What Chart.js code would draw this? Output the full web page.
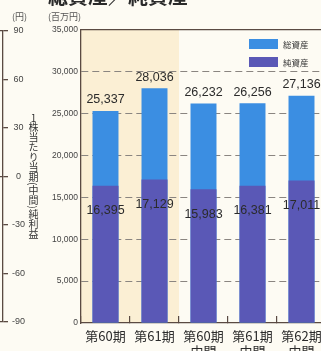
<!DOCTYPE html>
<html lang="ja">
<head>
<meta charset="utf-8">
<script src="https://cdn.jsdelivr.net/npm/chart.js@4/dist/chart.umd.min.js"></script>
<style>
  html, body { margin: 0; padding: 0; }
  body {
    width: 321px; height: 351px; overflow: hidden; position: relative;
    background: #fdfbf3; font-family: "Noto Sans CJK JP", "Noto Sans", sans-serif; color: #333;
  }
  canvas { position: absolute; top: 0; }
  #eps { left: -200px; }
  #main { left: 0; }
  .title { position: absolute; left: 48px; top: -18px; font-size: 20px; line-height: 28px; font-weight: bold; color: #2a2a2a; white-space: nowrap; }
  .unit { position: absolute; top: 10px; font-size: 9px; line-height: 14px; color: #555; white-space: nowrap; }
  .vlabel { position: absolute; left: 27px; top: 112px; font-size: 10px; line-height: 12px; writing-mode: vertical-rl; color: #333; white-space: nowrap; }
  .vlabel .up { text-combine-upright: all; }
  .legend { position: absolute; left: 249px; top: 35px; font-size: 8.5px; line-height: 10px; color: #333; }
  .legend div { display: flex; align-items: center; height: 18px; }
  .legend span.box { display: inline-block; width: 29px; height: 10px; margin-right: 5px; }
</style>
</head>
<body>
<canvas id="eps" width="250" height="351"></canvas>
<canvas id="main" width="350" height="351"></canvas>
<div class="title">総資産／純資産</div>
<div class="unit" style="left:12px">(円)</div>
<div class="unit" style="left:48px">(百万円)</div>
<div class="vlabel"><span class="up">1</span>株当たり当期(中間)純利益</div>
<div class="legend" id="legend"></div>
<script>
// data
const periods = [["第60期"], ["第61期"], ["第60期", "中間"], ["第61期", "中間"], ["第62期", "中間"]];
const totalAssets = [25337, 28036, 26232, 26256, 27136];
const netAssets = [16395, 17129, 15983, 16381, 17011];
const assetAxis = [0, 35000, 5000];   // min, max, step (百万円)
const epsAxis = [-90, 90, 30];        // min, max, step (円)
const annualCount = 2;                // shaded full-year periods

const colors = {
  total: "#3b8ee2",
  net: "#5a58b6",
  shade: "#fbefd4",
  axis: "#5a4a42",
  grid: "#8a8580",
  text: "#2b2b2b",
  tick: "#444"
};

// legend (総資産 on top)
const legendEl = document.getElementById("legend");
[["総資産", colors.total], ["純資産", colors.net]].forEach(([label, color]) => {
  const row = document.createElement("div");
  row.innerHTML = `<span class="box" style="background:${color}"></span>${label}`;
  legendEl.appendChild(row);
});

// left sliver: right-hand axis of the neighbouring per-share chart
new Chart(document.getElementById("eps"), {
  type: "line",
  data: { labels: [""], datasets: [] },
  options: {
    responsive: false,
    animation: false,
    layout: { padding: { top: 31, bottom: 29, left: 0, right: 0 } },
    plugins: { legend: { display: false }, tooltip: { enabled: false } },
    scales: {
      x: { display: false },
      y: {
        position: "right",
        min: epsAxis[0],
        max: epsAxis[1],
        afterFit: (s) => { s.width = 47; },
        ticks: { stepSize: epsAxis[2], color: colors.tick, font: { size: 9, family: "Liberation Sans, Arial" }, padding: 4, crossAlign: "center" },
        grid: {
          color: (ctx) => (ctx.tick && [epsAxis[0], 0, epsAxis[1]].includes(ctx.tick.value) ? colors.axis : "transparent"),
          tickColor: colors.axis,
          tickLength: 5,
          lineWidth: 1.3
        },
        border: { color: colors.axis, width: 1.3 }
      }
    }
  }
});

const shadePlugin = {
  id: "shade",
  beforeDraw(chart) {
    const { ctx, chartArea, scales } = chart;
    const x = scales.x;
    const edge = (x.getPixelForValue(annualCount - 1) + x.getPixelForValue(annualCount)) / 2;
    ctx.save();
    ctx.fillStyle = colors.shade;
    ctx.fillRect(chartArea.left, chartArea.top, edge - chartArea.left, chartArea.bottom - chartArea.top);
    ctx.restore();
  }
};

const valueLabels = {
  id: "valueLabels",
  afterDatasetsDraw(chart) {
    const { ctx } = chart;
    ctx.save();
    ctx.font = "12.5px 'Liberation Sans', Arial, sans-serif";
    ctx.fillStyle = colors.text;
    ctx.textAlign = "center";
    ctx.textBaseline = "middle";
    chart.data.datasets.forEach((ds, i) => {
      chart.getDatasetMeta(i).data.forEach((bar, j) => {
        const text = ds.data[j].toLocaleString("en-US");
        const y = ds.key === "total" ? bar.y - 11 : bar.y + 25;
        ctx.fillText(text, bar.x, y);
      });
    });
    ctx.restore();
  }
};

new Chart(document.getElementById("main"), {
  type: "bar",
  data: {
    labels: periods,
    datasets: [
      { key: "net", label: "純資産", data: netAssets, backgroundColor: colors.net, grouped: false, categoryPercentage: 1, barPercentage: 0.53 },
      { key: "total", label: "総資産", data: totalAssets, backgroundColor: colors.total, grouped: false, categoryPercentage: 1, barPercentage: 0.53 }
    ]
  },
  options: {
    responsive: false,
    animation: false,
    layout: { padding: { top: 30, right: 24, left: 0, bottom: 0 } },
    plugins: { legend: { display: false }, tooltip: { enabled: false } },
    scales: {
      x: {
        afterFit: (s) => { s.height = 28; },
        ticks: { color: colors.text, font: { size: 13, family: "Noto Sans CJK JP" }, padding: 12, maxRotation: 0, autoSkip: false },
        grid: { drawOnChartArea: false, tickLength: -7, tickColor: colors.axis, lineWidth: 1.2 },
        border: { color: colors.axis, width: 1.3 }
      },
      x2: {
        position: "top",
        afterFit: (s) => { s.height = 0; },
        ticks: { display: false },
        grid: { drawOnChartArea: false, drawTicks: false },
        border: { color: colors.axis, width: 1.3 }
      },
      y: {
        min: assetAxis[0],
        max: assetAxis[1],
        afterFit: (s) => { s.width = 81; },
        ticks: {
          stepSize: assetAxis[2],
          color: colors.tick,
          padding: 3,
          font: { size: 8.5, family: "Liberation Sans, Arial" },
          callback: (v) => v.toLocaleString("en-US")
        },
        grid: {
          drawTicks: false,
          color: (ctx) => (ctx.tick && (ctx.tick.value === assetAxis[0] || ctx.tick.value === assetAxis[1]) ? "transparent" : colors.grid),
          lineWidth: 1
        },
        border: { color: colors.axis, width: 1.3, dash: [7, 4] }
      }
    }
  },
  plugins: [shadePlugin, valueLabels]
});
</script>
</body>
</html>
